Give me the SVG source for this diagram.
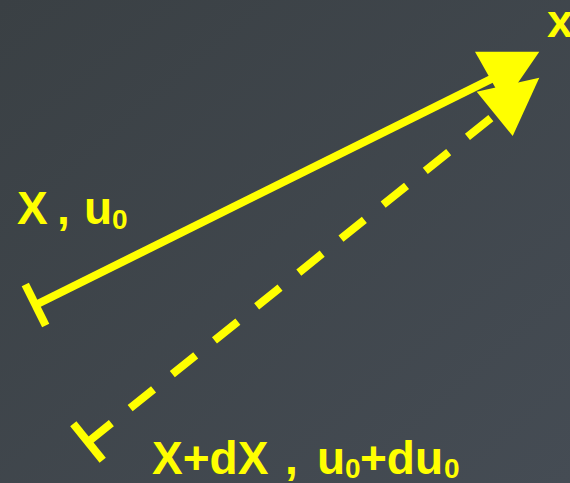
<svg xmlns="http://www.w3.org/2000/svg" width="570" height="483" viewBox="0 0 570 483">
  <defs>
    <linearGradient id="bg" x1="0" y1="0" x2="1" y2="1">
      <stop offset="0" stop-color="#3a4044"/>
      <stop offset="1" stop-color="#454c54"/>
    </linearGradient>
  </defs>
  <style>
    .ln { stroke: #ffff00; stroke-width: 8; fill: none; stroke-linecap: butt; }
    .dash { stroke-dasharray: 30 24.1; }
    .head { fill: #ffff00; stroke: none; }
    .lbl { font-family: "Liberation Sans", Arial, sans-serif; font-weight: bold; fill: #ffff00; font-size: 46px; }
    .sub { font-size: 28px; }
  </style>
  <rect x="0" y="0" width="570" height="483" fill="url(#bg)"/>
  <g id="connectors">
    <g id="solid-arrow">
      <line class="ln" x1="35.5" y1="305" x2="494" y2="77.6"/>
      <line class="ln" x1="25.3" y1="284.4" x2="45.7" y2="325.6"/>
      <polygon class="head" points="475,51.7 539.3,51.7 504,103"/>
    </g>
    <g id="dashed-arrow">
      <line class="ln dash" x1="88" y1="442" x2="491" y2="118"/>
      <line class="ln" x1="73.3" y1="423.7" x2="102.7" y2="460.3"/>
      <polygon class="head" points="476.7,91.7 539.3,77.7 512.7,136"/>
    </g>
  </g>
  <g id="label-x">
    <text class="lbl" x="547" y="37" style="font-size:47px">x</text>
  </g>
  <g id="label-X-u0">
    <text class="lbl" y="224"><tspan x="17">X</tspan><tspan x="57">,</tspan><tspan x="84">u</tspan><tspan class="sub" x="112" y="229">0</tspan></text>
  </g>
  <g id="label-XdX-u0du0">
    <text class="lbl" y="474"><tspan x="152">X+dX</tspan><tspan x="285">,</tspan><tspan x="317">u</tspan><tspan class="sub" x="345" y="478">0</tspan><tspan x="360" y="474">+du</tspan><tspan class="sub" x="444" y="478">0</tspan></text>
  </g>
</svg>
